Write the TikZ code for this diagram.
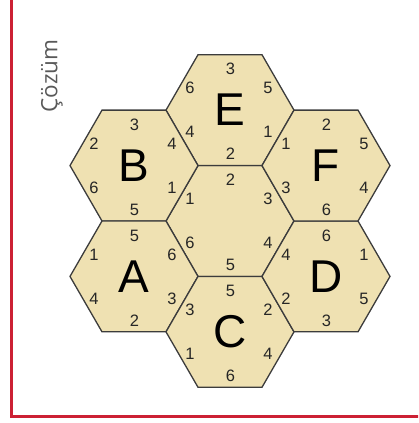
\documentclass[tikz,border=0pt]{standalone}
\usepackage{fontspec}
\setmainfont{Liberation Sans}
\newfontfamily\titlefont{Open Sans}
\usetikzlibrary{shapes.geometric}

\definecolor{hexfill}{RGB}{239,225,178}
\definecolor{hexline}{RGB}{60,60,60}
\definecolor{framered}{RGB}{204,32,52}

\tikzset{
    hexcell/.style={draw=hexline, fill=hexfill, line width=1.3pt, regular polygon, regular polygon sides=6,
        minimum size=128pt, inner sep=0pt, font=\fontsize{46}{46}\selectfont},
    num/.style={font=\fontsize{16.5}{16.5}\selectfont, text=black!85, inner sep=0pt},
}

\begin{document}
\begin{tikzpicture}[x=1pt, y=1pt]
    \useasboundingbox (0,0) rectangle (418,423);
    \clip (0,0) rectangle (418,423);
    \draw[framered, line width=2.5pt] (11.5,440) -- (11.5,6.5) -- (440,6.5);
    \node[rotate=90, text=black!65, font=\titlefont\fontsize{22.5}{22.5}\selectfont] (title) at (52,347) {Çözüm};

    % the seven cells
    \node[hexcell] (M) at (230,202) {};
    \node[hexcell] (E) at ([shift={(90:110.85)}]M.center) {E};
    \node[hexcell] (B) at ([shift={(150:110.85)}]M.center) {B};
    \node[hexcell] (A) at ([shift={(210:110.85)}]M.center) {A};
    \node[hexcell] (C) at ([shift={(270:110.85)}]M.center) {C};
    \node[hexcell] (D) at ([shift={(330:110.85)}]M.center) {D};
    \node[hexcell] (F) at ([shift={(30:110.85)}]M.center) {F};

    % numbers on the edges: top, upper right, lower right, bottom, lower left, upper left
    \foreach \h/\t/\ur/\lr/\b/\ll/\ul in {E/3/5/1/2/4/6, B/3/4/1/5/6/2, F/2/5/4/6/3/1, M/2/3/4/5/6/1,
            A/5/6/3/2/4/1, D/6/1/5/3/2/4, C/5/2/4/6/1/3} {
        \node[num] (\h-t) at ([shift={(0.5,41)}]\h.center) {\t};
        \node[num] (\h-ur) at ([shift={(38,22)}]\h.center) {\ur};
        \node[num] (\h-lr) at ([shift={(38,-22)}]\h.center) {\lr};
        \node[num] (\h-b) at ([shift={(0.5,-44)}]\h.center) {\b};
        \node[num] (\h-ll) at ([shift={(-40,-22)}]\h.center) {\ll};
        \node[num] (\h-ul) at ([shift={(-40,22)}]\h.center) {\ul};
    }
\end{tikzpicture}
\end{document}
